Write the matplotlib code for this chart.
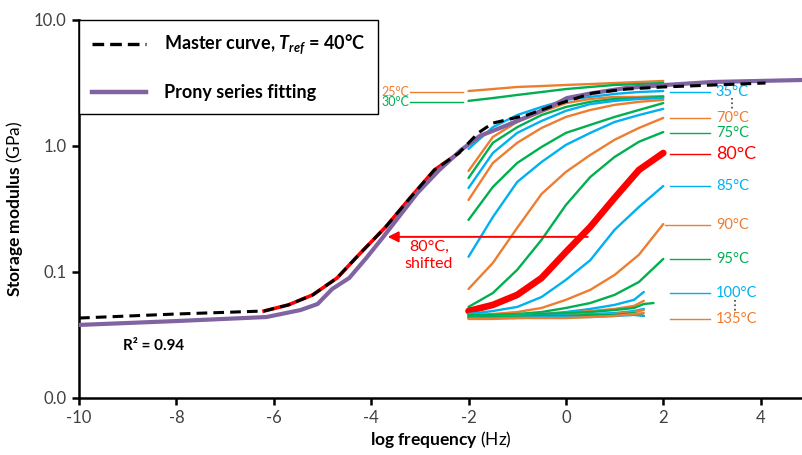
import matplotlib
matplotlib.use('Agg')
import matplotlib.pyplot as plt
from matplotlib.lines import Line2D
from matplotlib.ticker import FixedLocator, FixedFormatter, NullLocator

plt.rcParams['font.family'] = ['Lato', 'DejaVu Sans']
plt.rcParams['mathtext.fontset'] = 'custom'
plt.rcParams['mathtext.rm'] = 'Lato:bold'
plt.rcParams['mathtext.it'] = 'Lato:italic:bold'
plt.rcParams['mathtext.bf'] = 'Lato:bold'
plt.rcParams['mathtext.sf'] = 'Lato'

# master curve at Tref = 40 C (log frequency, GPa)
master_x = [-10, -8, -6.2, -5.7, -5.2, -4.7, -4.2, -3.7, -3.2, -2.7, -2.2,
            -1.8, -1.5, -0.8, -0.1, 0.55, 1.25, 2.0, 4.1]
master_y = [0.0431, 0.0464, 0.0490, 0.0548, 0.0658, 0.0896, 0.144, 0.228, 0.387,
            0.645, 0.880, 1.27, 1.52, 1.76, 2.19, 2.63, 2.83, 2.94, 3.16]

# Prony series fit
prony_x = [-10, -8, -6.15, -5.45, -5.1, -4.8, -4.45, -4.1, -3.75, -3.05, -2.6, -2.15,
           -1.77, -1.3, -0.8, -0.33, 0.02, 0.55, 1.25, 2.05, 3.0, 4.87]
prony_y = [0.0380, 0.0408, 0.0439, 0.0499, 0.0557, 0.0733, 0.0896, 0.129, 0.190,
           0.424, 0.645, 0.930, 1.20, 1.415, 1.70, 2.04, 2.40, 2.63, 2.89, 3.05, 3.22, 3.34]

# isothermal frequency sweeps
temps = [25, 30, 35, 40, 45, 50, 55, 60, 65, 70, 75, 80, 85, 90, 95,
         100, 105, 110, 115, 120, 125, 130, 135]
x_long = [-2, -1.5, -1, -0.5, 0, 0.5, 1, 1.5, 2]
x_short = [-2, -1.5, -1, -0.5, 0, 0.5, 1, 1.4, 1.6]
moduli = [
    [2.73, 2.83, 2.94, 2.99, 3.05, 3.10, 3.16, 3.22, 3.28],
    [2.28, 2.40, 2.54, 2.68, 2.83, 2.94, 3.05, 3.10, 3.16],
    [0.947, 1.41, 1.76, 2.04, 2.32, 2.45, 2.59, 2.68, 2.73],
    [0.633, 1.18, 1.55, 1.86, 2.19, 2.36, 2.45, 2.45, 2.49],
    [0.557, 1.06, 1.41, 1.76, 2.04, 2.24, 2.36, 2.40, 2.45],
    [0.464, 0.880, 1.27, 1.58, 1.90, 2.15, 2.28, 2.36, 2.40],
    [0.373, 0.733, 1.06, 1.39, 1.70, 1.93, 2.12, 2.24, 2.32],
    [0.259, 0.473, 0.733, 0.982, 1.27, 1.47, 1.70, 1.93, 2.19],
    [0.132, 0.273, 0.518, 0.746, 1.02, 1.27, 1.55, 1.76, 1.97],
    [0.0733, 0.118, 0.224, 0.416, 0.622, 0.848, 1.12, 1.39, 1.67],
    [0.0528, 0.0681, 0.104, 0.180, 0.340, 0.567, 0.818, 1.08, 1.29],
    [0.0490, 0.0548, 0.0658, 0.0896, 0.144, 0.228, 0.387, 0.645, 0.880],
    [0.0464, 0.0490, 0.0528, 0.0633, 0.0866, 0.124, 0.216, 0.328, 0.481],
    [0.0456, 0.0464, 0.0481, 0.0518, 0.0601, 0.0721, 0.0947, 0.137, 0.240],
    [0.0448, 0.0456, 0.0464, 0.0481, 0.0518, 0.0567, 0.0658, 0.0833, 0.127],
    [0.0448, 0.0448, 0.0456, 0.0464, 0.0481, 0.0509, 0.0548, 0.0601, 0.0694],
    [0.0448, 0.0448, 0.0456, 0.0464, 0.0472, 0.0490, 0.0509, 0.0538, 0.0590],
    [0.0456, 0.0456, 0.0456, 0.0464, 0.0472, 0.0481, 0.0499, 0.0518, 0.0557, 0.0567],
    [0.0439, 0.0439, 0.0448, 0.0448, 0.0456, 0.0464, 0.0472, 0.0490, 0.0509],
    [0.0431, 0.0431, 0.0439, 0.0439, 0.0448, 0.0456, 0.0464, 0.0481, 0.0499],
    [0.0439, 0.0439, 0.0439, 0.0448, 0.0448, 0.0456, 0.0456, 0.0472, 0.0448],
    [0.0431, 0.0431, 0.0431, 0.0439, 0.0439, 0.0439, 0.0448, 0.0456, 0.0448],
    [0.0424, 0.0424, 0.0431, 0.0431, 0.0431, 0.0439, 0.0448, 0.0464, 0.0472],
]
shift_80 = -4.2  # log shift factor applied to the 80 C sweep

# labelled curves: temperature -> label height (GPa)
left_labels = {25: 2.70, 30: 2.22}
right_labels = {35: 2.68, 70: 1.67, 75: 1.27, 80: 0.864, 85: 0.481, 90: 0.236,
                95: 0.127, 100: 0.0681, 135: 0.0424}

ORANGE = '#ED7D31'
GREEN = '#00B050'
BLUE = '#00B0F0'
RED = '#FF0000'
PURPLE = '#8064A2'

cycle = [ORANGE, GREEN, BLUE]
colors = []
k = 0
for t in temps:
    if t == 80:
        colors.append(RED)
    else:
        colors.append(cycle[k % 3])
        k += 1

fig = plt.figure(figsize=(8.03, 4.55), dpi=100)
ax = fig.add_axes([0.0984, 0.1253, 0.9016, 0.8308])

for i, t in enumerate(temps):
    xs = x_long if t <= 95 else x_short
    if t == 110:
        xs = x_short + [1.8]
    lw = 4.8 if t == 80 else 1.7
    ax.plot(xs, moduli[i], color=colors[i], lw=lw, solid_capstyle='round',
            solid_joinstyle='round', zorder=2)

# shifted 80 C sweep under the master curve
i80 = temps.index(80)
ax.plot([x + shift_80 for x in x_long], moduli[i80], color=RED, lw=2.6,
        solid_joinstyle='round', zorder=3)
ax.plot(prony_x, prony_y, color=PURPLE, lw=3.0, solid_joinstyle='round', zorder=3.5)
ax.plot(master_x, master_y, color='black', lw=2.2, ls=(0, (3.5, 2.0)), zorder=4)

# shift arrow
ax.annotate('', xy=(-3.66, 0.19), xytext=(0.45, 0.19),
            arrowprops=dict(arrowstyle='-|>', color=RED, lw=1.4,
                            mutation_scale=16, shrinkA=0, shrinkB=0), zorder=5)
ax.text(-2.81, 0.136, '80°C,\nshifted', color=RED, fontsize=11.5,
        ha='center', va='center', linespacing=1.3)

# curve labels
for t, yl in left_labels.items():
    c = colors[temps.index(t)]
    ax.plot([-3.2, -2.12], [yl, yl], color=c, lw=1.0)
    ax.text(-3.22, yl, f'{t}°C', color=c, fontsize=9, ha='right', va='center')
for t, yl in right_labels.items():
    c = colors[temps.index(t)]
    x0 = 2.03 if t == 90 else 2.13
    ax.plot([x0, 2.96], [yl, yl], color=c, lw=1.0, clip_on=False)
    fs = 13 if t == 80 else 10.5
    ax.text(3.08, yl, f'{t}°C', color=c, fontsize=fs, ha='left', va='center',
            clip_on=False)
ax.plot([3.42, 3.42], [2.40, 1.93], color='#404040', lw=1.2, ls=':')
ax.plot([3.48, 3.48], [0.0601, 0.0481], color='#404040', lw=1.2, ls=':')

ax.text(-9.1, 0.0259, 'R² = 0.94', fontsize=11, fontweight='bold', va='center')

ax.set_yscale('log')
ax.set_ylim(0.01, 10)
ax.set_xlim(-10, 4.87)
ax.yaxis.set_major_locator(FixedLocator([0.01, 0.1, 1, 10]))
ax.yaxis.set_major_formatter(FixedFormatter(['0.0', '0.1', '1.0', '10.0']))
ax.yaxis.set_minor_locator(NullLocator())
ax.set_xticks(range(-10, 5, 2))
ax.set_xticklabels([str(v) for v in range(-10, 5, 2)])

for s in ['top', 'right']:
    ax.spines[s].set_visible(False)
for s in ['left', 'bottom']:
    ax.spines[s].set_linewidth(1.8)
ax.tick_params(direction='out', length=5, width=1.8, labelsize=12,
               labelcolor='#404040', pad=4)

ax.set_xlabel('log frequency $\\mathsf{(Hz)}$', fontsize=12.5, fontweight='bold',
              labelpad=2)
ax.set_ylabel('Storage modulus $\\mathsf{(GPa)}$', fontsize=12.5, fontweight='bold',
              labelpad=6)

handles = [Line2D([], [], color='black', lw=2.4, ls=(0, (3.5, 1.8))),
           Line2D([], [], color=PURPLE, lw=3.2)]
labels = ['Master curve, $T_{ref}$ = 40°C', 'Prony series fitting']
leg = ax.legend(handles, labels, loc='upper left', bbox_to_anchor=(0, 1),
                borderaxespad=0, frameon=True, fancybox=False, edgecolor='black',
                framealpha=1, handlelength=3.0, handletextpad=1.0,
                labelspacing=1.5, borderpad=0.7,
                prop=dict(family='Lato', weight='bold', size=13))
leg.get_frame().set_linewidth(1.0)
leg.set_zorder(10)

fig.savefig('out.png', dpi=100)
